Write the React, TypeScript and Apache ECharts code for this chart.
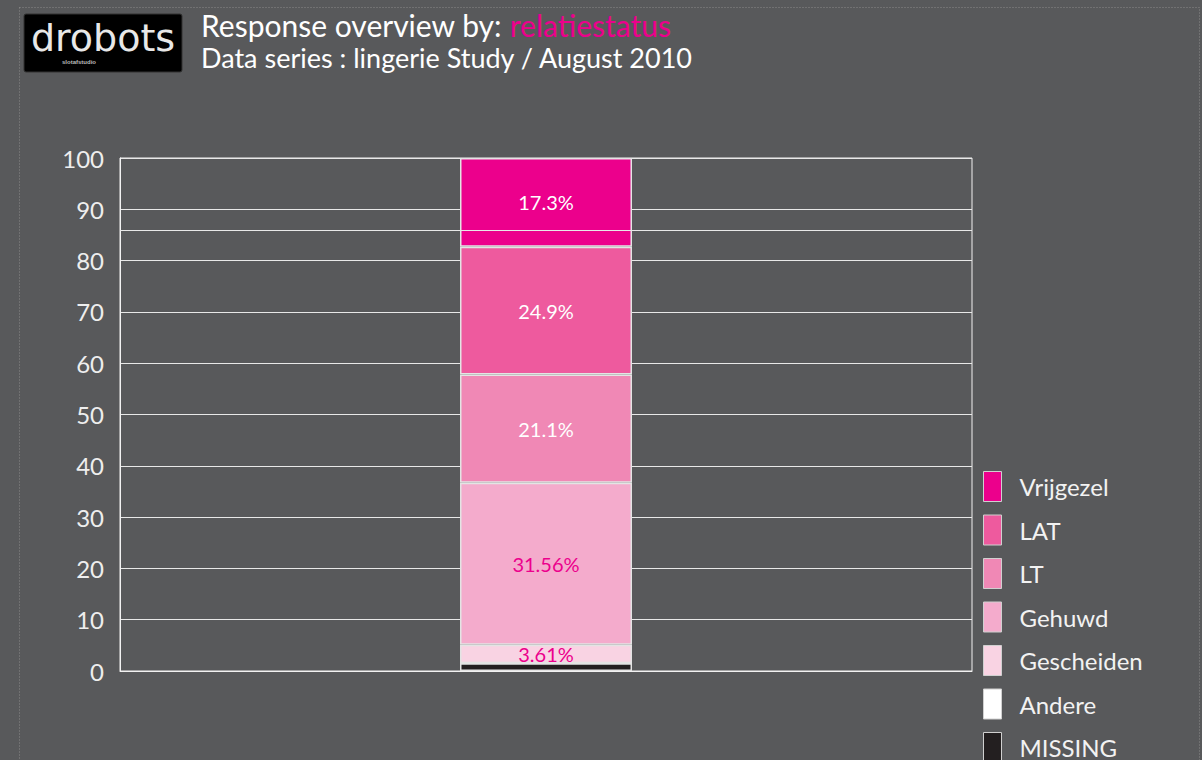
import React, { useEffect, useRef } from "react";
import * as echarts from "echarts";

const categories = ["relatiestatus"];
const seriesNames = ["MISSING", "Andere", "Gescheiden", "Gehuwd", "LT", "LAT", "Vrijgezel"];
const seriesValues = [1.53, 0, 3.61, 31.56, 21.1, 24.9, 17.3];
const seriesColors = ["#231f20", "#ffffff", "#f9d3e3", "#f4abcc", "#f088b5", "#ee5a9e", "#ec008c"];
const labelColors = ["", "", "#ec008c", "#ec008c", "#ffffff", "#ffffff", "#ffffff"];
const showLabel = [false, false, true, true, true, true, true];
const legendOrder = ["Vrijgezel", "LAT", "LT", "Gehuwd", "Gescheiden", "Andere", "MISSING"];
const yTicks = { min: 0, max: 100, interval: 10 };
const extraGridLine = 86;

const FONT = "Lato, 'DejaVu Sans', sans-serif";

export default function App() {
  const ref = useRef<HTMLDivElement>(null);
  useEffect(() => {
    if (!ref.current) return;
    const chart = echarts.init(ref.current, undefined, { renderer: "svg" });
    const series: any[] = seriesNames.map((name, i) => ({
      name,
      type: "bar",
      stack: "total",
      barWidth: 172,
      data: [seriesValues[i]],
      itemStyle: { color: seriesColors[i], borderColor: "#e4e4e4", borderWidth: 1.5 },
      label: {
        show: showLabel[i],
        position: "inside",
        formatter: (p: any) => `${p.value}%`,
        color: labelColors[i] || "#fff",
        fontSize: 20,
        fontFamily: FONT,
      },
      emphasis: { disabled: true },
    }));
    series[0].markLine = {
      silent: true,
      symbol: "none",
      label: { show: false },
      lineStyle: { color: "#e8e8e8", width: 1, type: "solid" },
      data: [{ yAxis: extraGridLine }],
    };
    chart.setOption({
      animation: false,
      backgroundColor: "#58595b",
      textStyle: { fontFamily: FONT },
      grid: {
        left: 120,
        right: 230,
        top: 158,
        bottom: 129,
        show: true,
        borderColor: "#f2f2f2",
        borderWidth: 1,
        backgroundColor: "transparent",
      },
      xAxis: {
        type: "category",
        data: categories,
        axisLabel: { show: false },
        axisTick: { show: false },
        axisLine: { lineStyle: { color: "#f2f2f2" } },
      },
      yAxis: {
        type: "value",
        min: yTicks.min,
        max: yTicks.max,
        interval: yTicks.interval,
        axisLine: { show: true, lineStyle: { color: "#f2f2f2" } },
        axisTick: { show: false },
        axisLabel: { color: "#eeeeee", fontSize: 24, margin: 16, fontFamily: FONT },
        splitLine: { lineStyle: { color: "#e8e8e8", width: 1 } },
      },
      legend: {
        data: legendOrder,
        orient: "vertical",
        left: 978,
        top: 466,
        itemWidth: 18,
        itemHeight: 30,
        itemGap: 12.5,
        icon: "rect",
        selectedMode: false,
        itemStyle: { borderColor: "#d0d0d0", borderWidth: 1 },
        textStyle: { color: "#f2f2f2", fontSize: 24, fontFamily: FONT, padding: [0, 0, 0, 13] },
      },
      graphic: [
        {
          type: "rect",
          shape: { x: 19.5, y: 7.5, width: 1180, height: 850 },
          style: { fill: "none", stroke: "#8a8a8a", lineWidth: 1, lineDash: [1, 2] },
          silent: true,
        },
        {
          type: "rect",
          shape: { x: 24, y: 14, width: 158, height: 58, r: 2 },
          style: { fill: "#000000", stroke: "#333", lineWidth: 1 },
        },
        {
          type: "text",
          x: 103,
          y: 38,
          style: {
            text: "drobots",
            fill: "#e8e8e8",
            font: "normal 38px 'DejaVu Sans', sans-serif",
            lineHeight: 38,
            align: "center",
            verticalAlign: "middle",
          },
        },
        {
          type: "text",
          x: 62,
          y: 59,
          style: { text: "slotafstudio", fill: "#bbbbbb", font: "bold 6px sans-serif" },
        },
        {
          type: "text",
          x: 201,
          y: 25,
          style: {
            rich: {
              a: { fill: "#ffffff", fontSize: 30, fontFamily: FONT, lineHeight: 28 },
              b: { fill: "#ec008c", fontSize: 30, fontFamily: FONT, lineHeight: 28 },
            },
            text: "{a|Response overview by: }{b|relatiestatus}",
            verticalAlign: "middle",
          },
        },
        {
          type: "text",
          x: 201,
          y: 57,
          style: {
            text: "Data series : lingerie Study / August 2010",
            fill: "#ffffff",
            fontSize: 27,
            lineHeight: 26,
            fontFamily: FONT,
            verticalAlign: "middle",
          },
        },
      ],
      series,
    });
    return () => chart.dispose();
  }, []);
  return <div ref={ref} style={{ position: "fixed", left: 0, top: 0, width: 1202, height: 800 }} />;
}
